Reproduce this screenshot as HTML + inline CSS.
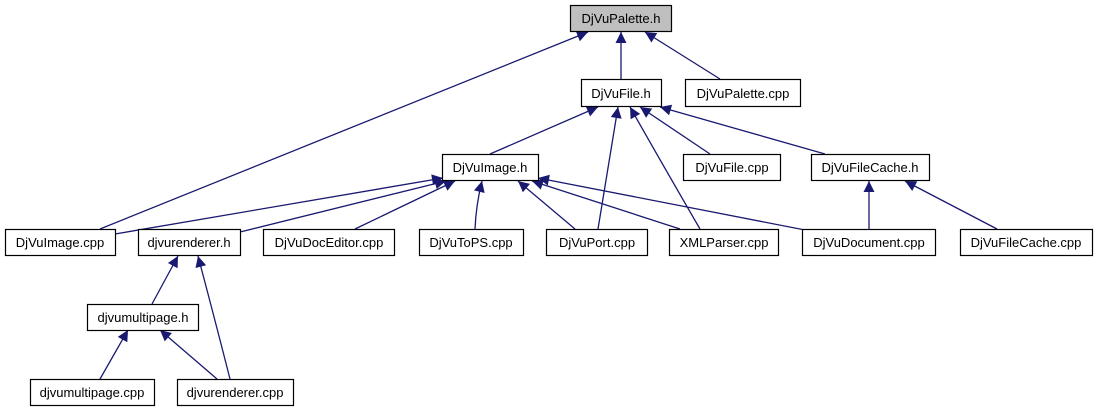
<!DOCTYPE html>
<html><head><meta charset="utf-8"><style>
html,body{margin:0;padding:0;background:#fff;}
svg text{font-family:"Liberation Sans",sans-serif;font-size:13px;fill:#000;}
</style></head><body>
<svg width="1096" height="411" viewBox="0 0 1096 411" xmlns="http://www.w3.org/2000/svg">
<defs><marker id="a" viewBox="0 0 10 10" refX="10" refY="5" markerWidth="13" markerHeight="11" markerUnits="userSpaceOnUse" orient="auto"><path d="M0,0 L10,5 L0,10 z" fill="#191970"/></marker></defs>
<g stroke="#191970" stroke-width="1.3" fill="none" marker-end="url(#a)">
<line x1="100" y1="229" x2="588" y2="32"/>
<line x1="621" y1="79" x2="621" y2="32"/>
<line x1="720" y1="79" x2="645" y2="32"/>
<line x1="490" y1="154" x2="598" y2="107"/>
<line x1="598" y1="229" x2="618" y2="107"/>
<path d="M700,229 Q660,160 630,107"/>
<line x1="710" y1="154" x2="640" y2="107"/>
<line x1="825" y1="154" x2="660" y2="107"/>
<line x1="115" y1="234" x2="443" y2="178"/>
<line x1="240" y1="232" x2="446" y2="181"/>
<line x1="355" y1="229" x2="455" y2="181"/>
<path d="M475,229 Q476,205 482,181"/>
<line x1="575" y1="229" x2="518" y2="181"/>
<line x1="680" y1="229" x2="532" y2="181"/>
<line x1="805" y1="230" x2="538" y2="178"/>
<line x1="869" y1="229" x2="869" y2="181"/>
<line x1="997" y1="229" x2="905" y2="181"/>
<path d="M152,304 Q165,280 178,256"/>
<path d="M230,379 Q215,320 198,256"/>
<line x1="100" y1="379" x2="128" y2="330"/>
<line x1="217" y1="379" x2="160" y2="330"/>
</g>
<g stroke="#000" stroke-width="1.2">
<rect x="570.5" y="5.5" width="101" height="26" fill="#bfbfbf"/>
<rect x="581.5" y="79.5" width="80" height="27" fill="#fff"/>
<rect x="685.5" y="79.5" width="115" height="27" fill="#fff"/>
<rect x="442.5" y="154.5" width="96" height="26" fill="#fff"/>
<rect x="683.5" y="154.5" width="97" height="26" fill="#fff"/>
<rect x="811.5" y="154.5" width="118" height="26" fill="#fff"/>
<rect x="5.5" y="229.5" width="110" height="26" fill="#fff"/>
<rect x="138.5" y="229.5" width="102" height="26" fill="#fff"/>
<rect x="263.5" y="229.5" width="131" height="26" fill="#fff"/>
<rect x="419.5" y="229.5" width="104" height="26" fill="#fff"/>
<rect x="546.5" y="229.5" width="101" height="26" fill="#fff"/>
<rect x="669.5" y="229.5" width="109" height="26" fill="#fff"/>
<rect x="802.5" y="229.5" width="133" height="26" fill="#fff"/>
<rect x="960.5" y="229.5" width="132" height="26" fill="#fff"/>
<rect x="87.5" y="304.5" width="111" height="26" fill="#fff"/>
<rect x="30.5" y="379.5" width="124" height="26" fill="#fff"/>
<rect x="177.5" y="379.5" width="116" height="26" fill="#fff"/>
</g>
<g text-anchor="middle">
<text x="621" y="23">DjVuPalette.h</text>
<text x="621" y="98">DjVuFile.h</text>
<text x="743" y="98">DjVuPalette.cpp</text>
<text x="490" y="172">DjVuImage.h</text>
<text x="732" y="172">DjVuFile.cpp</text>
<text x="870" y="172">DjVuFileCache.h</text>
<text x="60" y="247">DjVuImage.cpp</text>
<text x="189" y="247">djvurenderer.h</text>
<text x="329" y="247">DjVuDocEditor.cpp</text>
<text x="471" y="247">DjVuToPS.cpp</text>
<text x="597" y="247">DjVuPort.cpp</text>
<text x="724" y="247">XMLParser.cpp</text>
<text x="869" y="247">DjVuDocument.cpp</text>
<text x="1026" y="247">DjVuFileCache.cpp</text>
<text x="143" y="322">djvumultipage.h</text>
<text x="92" y="397">djvumultipage.cpp</text>
<text x="235" y="397">djvurenderer.cpp</text>
</g>
</svg>
</body></html>
